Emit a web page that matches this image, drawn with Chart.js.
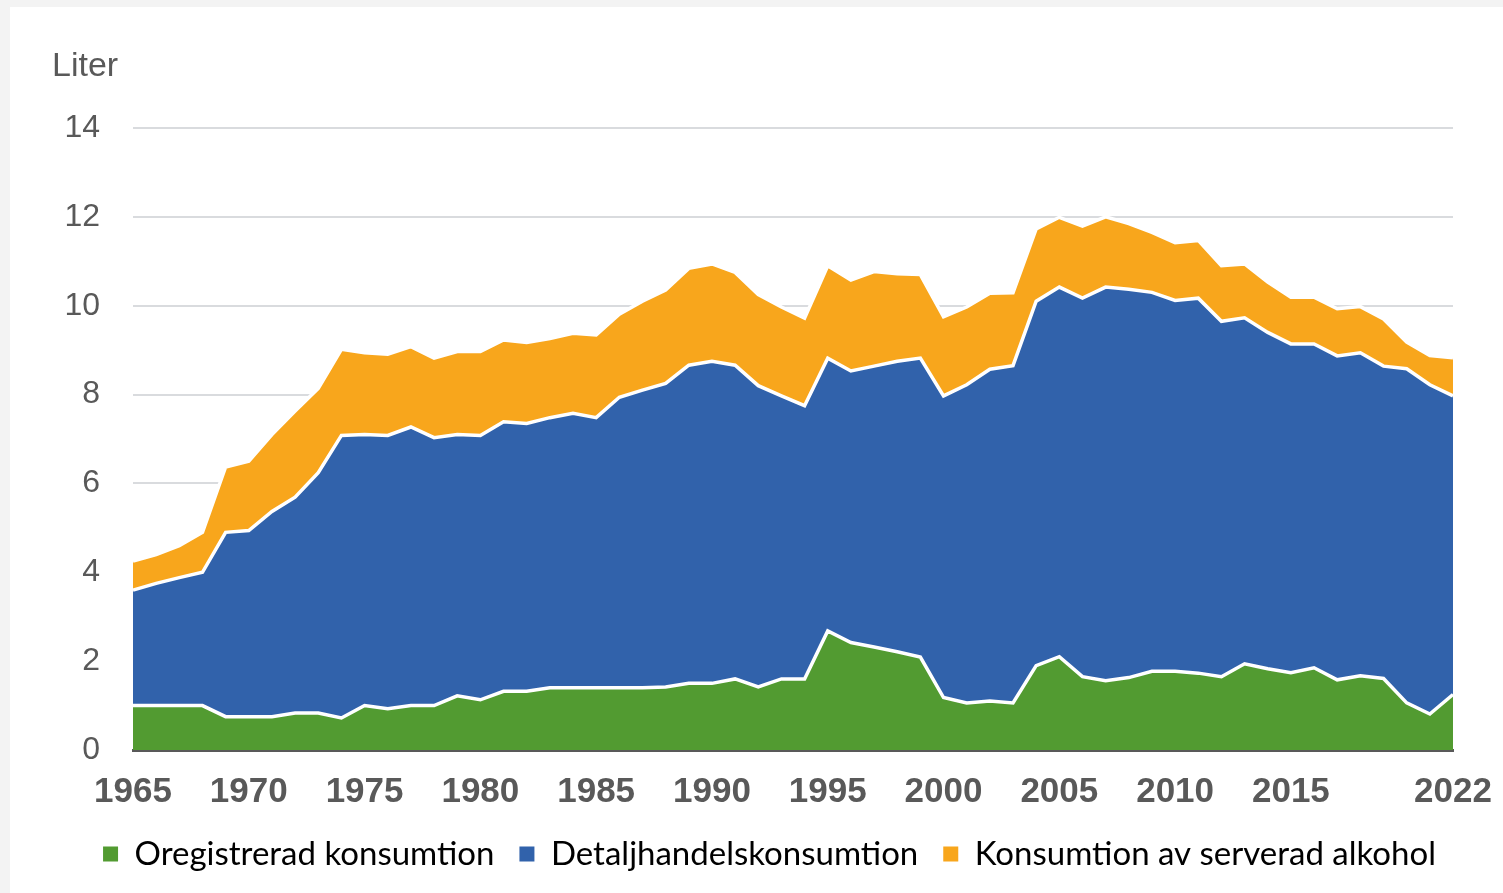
<!DOCTYPE html>
<html lang="sv">
<head>
<meta charset="utf-8">
<title>Alkoholkonsumtion</title>
<script src="https://cdn.jsdelivr.net/npm/chart.js@4.4.1/dist/chart.umd.min.js"></script>
<style>
  html, body { margin: 0; padding: 0; background: #f3f3f3; }
  body { width: 1503px; height: 893px; position: relative; overflow: hidden; }
  #card { position: absolute; left: 10px; top: 7px; right: 0; bottom: 0; background: #ffffff; }
  #chart { position: absolute; left: 0; top: 0; }
</style>
</head>
<body>
<div id="card"></div>
<canvas id="chart" width="1503" height="893"></canvas>
<script>
// ===================== Data (liter per person) =====================
const years = [
  1965, 1966, 1967, 1968, 1969, 1970, 1971, 1972, 1973, 1974,
  1975, 1976, 1977, 1978, 1979, 1980, 1981, 1982, 1983, 1984,
  1985, 1986, 1987, 1988, 1989, 1990, 1991, 1992, 1993, 1994,
  1995, 1996, 1997, 1998, 1999, 2000, 2001, 2002, 2003, 2004,
  2005, 2006, 2007, 2008, 2009, 2010, 2011, 2012, 2013, 2014,
  2015, 2016, 2017, 2018, 2019, 2020, 2021, 2022
];

const oregistrerad = [
  1.0, 1.0, 1.0, 1.0, 0.75, 0.75, 0.75, 0.83, 0.83, 0.72,
  1.0, 0.93, 1.0, 1.0, 1.22, 1.13, 1.32, 1.32, 1.4, 1.4,
  1.4, 1.4, 1.4, 1.42, 1.5, 1.5, 1.6, 1.42, 1.6, 1.6,
  2.68, 2.42, 2.32, 2.21, 2.09, 1.18, 1.06, 1.1, 1.06, 1.9,
  2.1, 1.65, 1.56, 1.63, 1.77, 1.77, 1.73, 1.65, 1.94, 1.83,
  1.74, 1.85, 1.58, 1.67, 1.61, 1.06, 0.81, 1.25
];

const detaljhandel = [
  2.6, 2.75, 2.88, 3.0, 4.15, 4.19, 4.62, 4.86, 5.41, 6.36,
  6.1, 6.15, 6.27, 6.03, 5.88, 5.95, 6.07, 6.03, 6.08, 6.18,
  6.08, 6.54, 6.7, 6.83, 7.16, 7.25, 7.06, 6.78, 6.37, 6.15,
  6.14, 6.11, 6.32, 6.54, 6.73, 6.79, 7.16, 7.47, 7.59, 8.2,
  8.32, 8.52, 8.86, 8.74, 8.53, 8.35, 8.44, 8.0, 7.79, 7.57,
  7.4, 7.29, 7.29, 7.27, 7.03, 7.52, 7.41, 6.72
];

const serverad = [
  0.65, 0.65, 0.72, 0.9, 1.47, 1.56, 1.73, 1.94, 1.9, 1.94,
  1.84, 1.83, 1.81, 1.79, 1.87, 1.89, 1.84, 1.82, 1.78, 1.8,
  1.86, 1.87, 2.0, 2.1, 2.18, 2.19, 2.09, 2.05, 2.0, 1.97,
  2.08, 2.05, 2.13, 1.97, 1.88, 1.78, 1.75, 1.71, 1.64, 1.63,
  1.57, 1.62, 1.58, 1.48, 1.35, 1.3, 1.3, 1.25, 1.21, 1.13,
  1.05, 1.05, 1.06, 1.04, 1.06, 0.6, 0.66, 0.86
];

// x labels shown: every 5th year up to 2015, plus the last year
const shownYears = [1965, 1970, 1975, 1980, 1985, 1990, 1995, 2000, 2005, 2010, 2015, 2022];

// ===================== Colors =====================
const GREEN = "#529b31";
const BLUE = "#3162ab";
const ORANGE = "#f8a61c";
const AXIS_TEXT = "#595959";

// ===================== "Liter" label + legend nudge =====================
const unitLabel = {
  id: "unitLabel",
  afterLayout(chart) {
    // legend sits a bit right of the canvas centre in the original
    chart.legend.left += 13;
    chart.legend.right += 13;
  },
  afterDraw(chart) {
    const ctx = chart.ctx;
    ctx.save();
    ctx.font = "34px 'Liberation Sans', Arial, sans-serif";
    ctx.fillStyle = AXIS_TEXT;
    ctx.textAlign = "left";
    ctx.textBaseline = "alphabetic";
    ctx.fillText("Liter", 52, 76);
    ctx.restore();
  }
};

// ===================== Chart.js Setup =====================
const ctx = document.getElementById("chart").getContext("2d");

new Chart(ctx, {
  type: "line",
  data: {
    labels: years,
    datasets: [
      {
        label: "Oregistrerad konsumtion",
        data: oregistrerad,
        backgroundColor: GREEN,
        borderColor: "#ffffff",
        borderWidth: 3.5,
        fill: "origin",
      },
      {
        label: "Detaljhandelskonsumtion",
        data: detaljhandel,
        backgroundColor: BLUE,
        borderColor: "#ffffff",
        borderWidth: 3.5,
        fill: "-1",
      },
      {
        label: "Konsumtion av serverad alkohol",
        data: serverad,
        backgroundColor: ORANGE,
        borderColor: "#ffffff",
        borderWidth: 3.5,
        fill: "-1",
      },
    ],
  },
  options: {
    responsive: false,
    animation: false,
    devicePixelRatio: 1,
    elements: {
      point: { radius: 0, hoverRadius: 0 },
      line: { tension: 0, borderJoinStyle: "miter" },
    },
    layout: {
      padding: { left: 60, right: 50, top: 128, bottom: 12.5 },
    },
    scales: {
      x: {
        stacked: true,
        afterFit(scale) {
          scale.height = 62.5;
          scale.paddingLeft = 0;
          scale.paddingRight = 0;
        },
        grid: { display: false, drawTicks: false },
        border: { display: true, color: AXIS_TEXT, width: 3 },
        ticks: {
          autoSkip: false,
          maxRotation: 0,
          padding: 21,
          color: AXIS_TEXT,
          font: { family: "'Liberation Sans', Arial, sans-serif", size: 35, weight: "bold" },
          callback: function (value) {
            const y = years[value];
            return shownYears.includes(y) ? String(y) : "";
          },
        },
      },
      y: {
        stacked: true,
        min: 0,
        max: 14,
        afterFit(scale) { scale.width = 73; },
        grid: { color: "#d9dbde", lineWidth: 2, drawTicks: false },
        border: { display: false },
        ticks: {
          stepSize: 2,
          padding: 33,
          color: AXIS_TEXT,
          font: { family: "'Liberation Sans', Arial, sans-serif", size: 32 },
        },
      },
    },
    plugins: {
      legend: {
        position: "bottom",
        labels: {
          boxWidth: 15,
          boxHeight: 15,
          padding: 25,
          color: "#000000",
          font: { family: "Lato, 'Liberation Sans', sans-serif", size: 33 },
          generateLabels(chart) {
            return chart.data.datasets.map((d, i) => ({
              text: d.label,
              fillStyle: d.backgroundColor,
              strokeStyle: d.backgroundColor,
              lineWidth: 0,
              fontColor: "#000000",
              datasetIndex: i,
              hidden: false,
            }));
          },
        },
      },
      tooltip: { enabled: false },
    },
  },
  plugins: [unitLabel],
});
</script>
</body>
</html>
